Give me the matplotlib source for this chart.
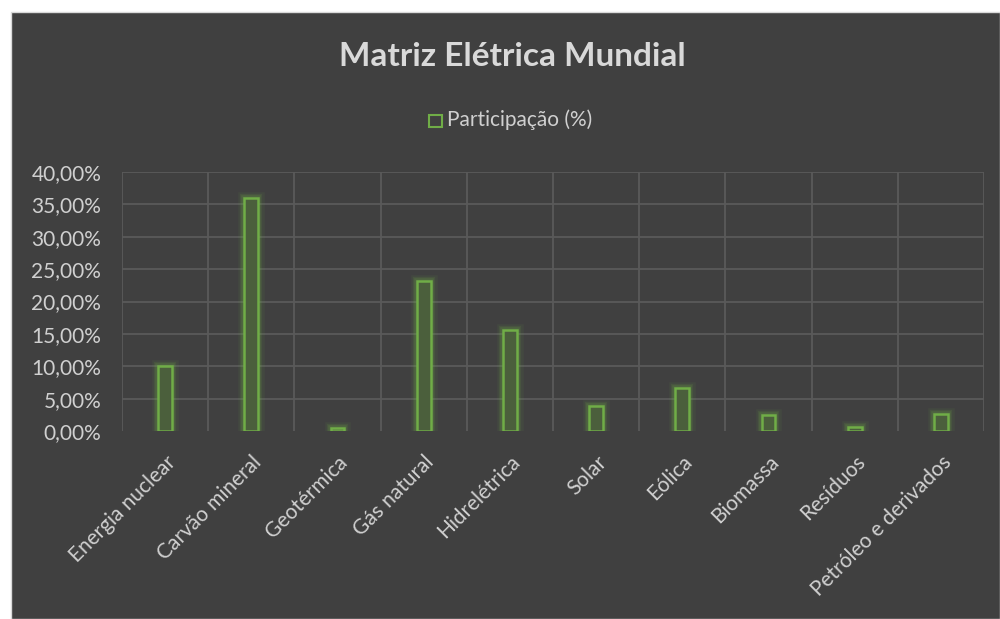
import numpy as np
import matplotlib.pyplot as plt
from matplotlib.patches import Rectangle

# dados da matriz elétrica
fontes = ['Energia nuclear', 'Carvão mineral', 'Geotérmica', 'Gás natural', 'Hidrelétrica',
          'Solar', 'Eólica', 'Biomassa', 'Resíduos', 'Petróleo e derivados']
participacao = [10.0, 36.0, 0.5, 23.1, 15.6, 3.9, 6.6, 2.4, 0.6, 2.7]
y_ticks = [0, 5, 10, 15, 20, 25, 30, 35, 40]
y_labels = ['0,00%', '5,00%', '10,00%', '15,00%', '20,00%', '25,00%', '30,00%', '35,00%', '40,00%']

plt.rcParams['font.family'] = ['Lato', 'DejaVu Sans']
fundo = '#404040'
verde = '#70ad47'
texto = '#d9d9d9'

fig = plt.figure(figsize=(10, 6.19), dpi=100, facecolor='white')
# painel escuro do gráfico
fig.patches.append(Rectangle((0.011, 0), 0.989, 1 - 12 / 619, transform=fig.transFigure,
                             facecolor=fundo, edgecolor='#d9d9d9', linewidth=1, zorder=-1))

ax = fig.add_axes([0.122, 0.3037, 0.862, 0.4184])
ax.set_facecolor(fundo)

x = np.arange(len(fontes))
largura = 0.16
# brilho em volta das barras
for lw, a in [(9, 0.08), (6, 0.12), (4, 0.18)]:
    ax.bar(x, participacao, width=largura, color='none', edgecolor=verde, linewidth=lw, alpha=a, zorder=2)
ax.bar(x, participacao, width=largura, color='#4b5f3c', edgecolor=verde, linewidth=1.8, zorder=3)

ax.set_xlim(-0.5, len(fontes) - 0.5)
ax.set_ylim(0, 40)
ax.set_yticks(y_ticks)
ax.set_yticklabels(y_labels)
ax.set_xticks(x)
ax.set_xticklabels(fontes, rotation=45, ha='right', rotation_mode='anchor')
ax.tick_params(axis='both', length=0, colors='#d0d0d0', labelsize=15)
ax.tick_params(axis='x', pad=15)
ax.tick_params(axis='y', pad=15)

# grade
for yv in y_ticks[1:]:
    ax.axhline(yv, color='#5a5a5a', linewidth=1.3, zorder=1)
for xv in np.arange(-0.5, len(fontes), 1):
    ax.axvline(xv, color='#5a5a5a', linewidth=1.3, zorder=1)
for s in ax.spines.values():
    s.set_visible(False)

fig.text(0.512, 1 - 56 / 619, 'Matriz Elétrica Mundial', ha='center', va='center',
         fontsize=24, fontweight='bold', color=texto)
fig.patches.append(Rectangle((0.429, 1 - 127 / 619), 0.013, 12 / 619, transform=fig.transFigure,
                             facecolor=fundo, edgecolor=verde, linewidth=1.5))
fig.text(0.447, 1 - 120 / 619, 'Participação (%)', ha='left', va='center', fontsize=15, color='#d0d0d0')

fig.savefig('out.png', dpi=100, facecolor='white')
